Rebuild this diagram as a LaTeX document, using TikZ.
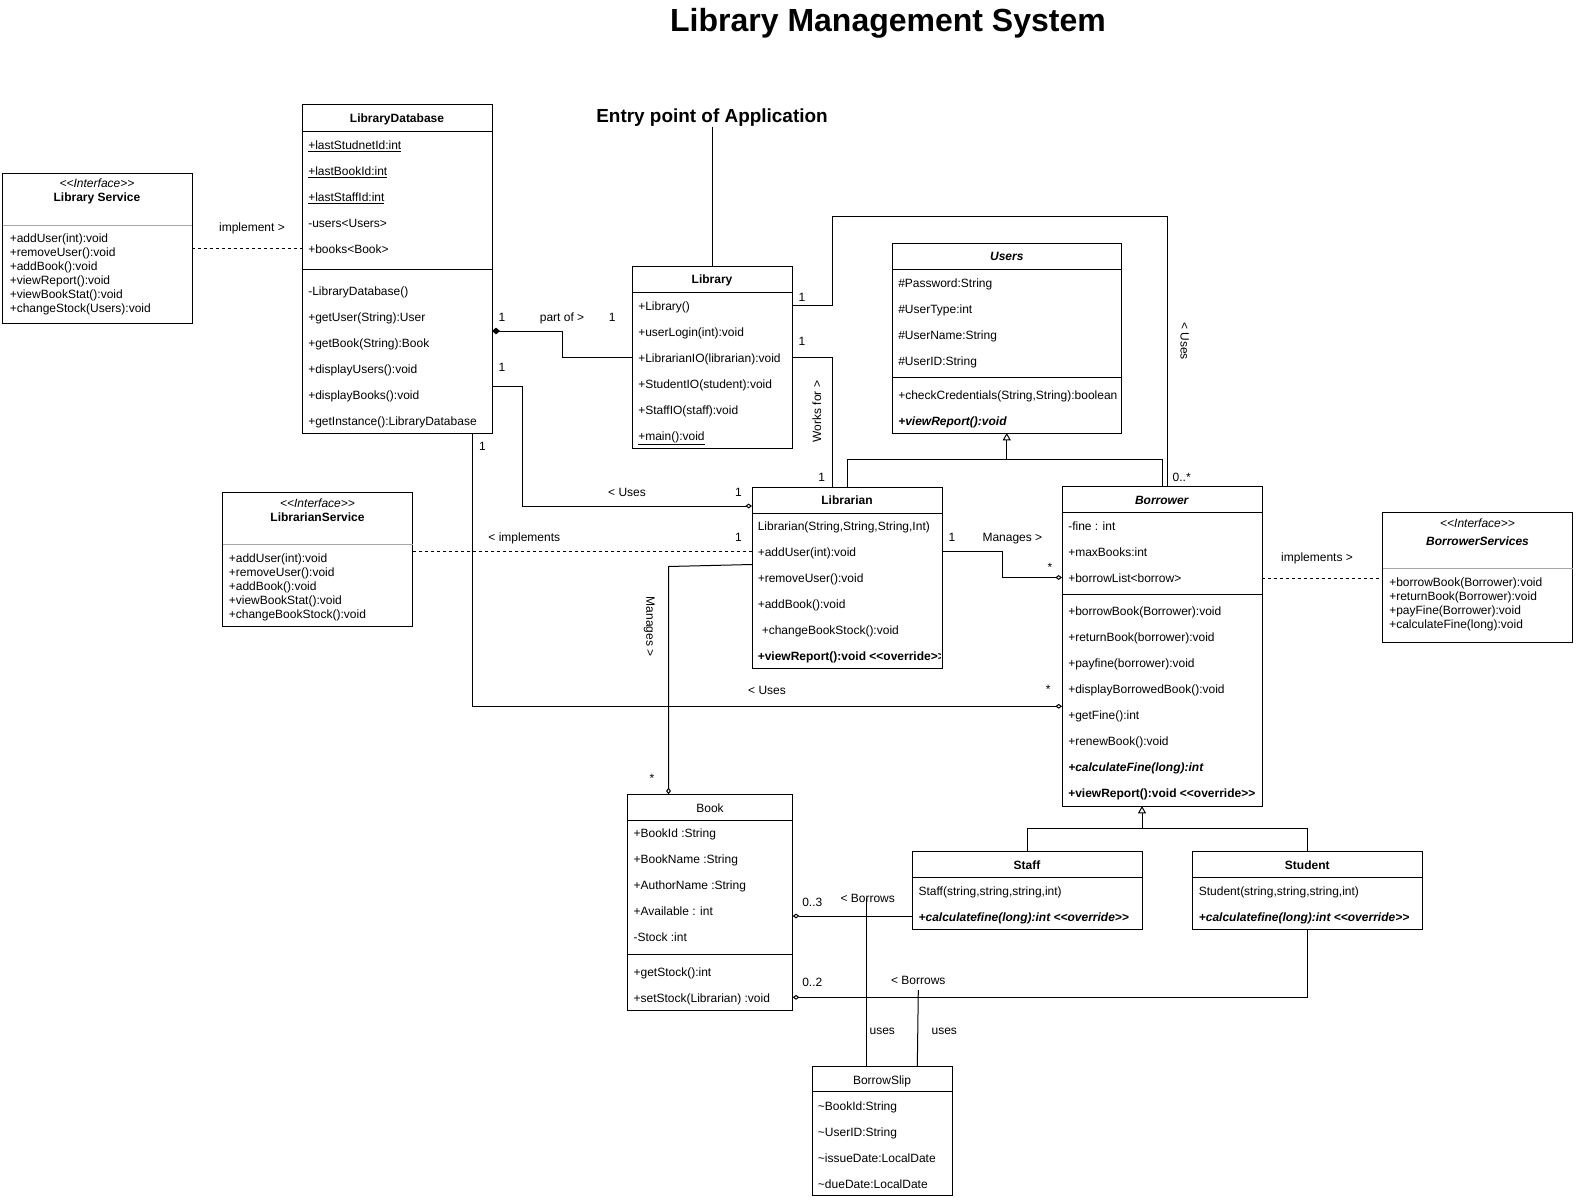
\documentclass[tikz,border=0pt]{standalone}
\usepackage{fontspec}
\setmainfont{Liberation Sans}
\usetikzlibrary{arrows.meta}
\newcommand\dlt{<\kern0pt<}
\newcommand\dgt{>\kern0pt>}
\newcommand\ubox[5]{\node[ubx,anchor=north west,minimum width={(#4-(#2))*0.75pt},minimum height={(#5-(#3))*0.75pt}] (#1) at (#2,#3) {};}
\newcommand\rows[5]{\foreach \tx [count=\i] in {#5} {\node[t,anchor=west] (#1\i) at (#2,{#3+(\i-1)*#4}) {\tx};}}
\newcommand\sepline[3]{\draw[ln] (#1,#3) -- (#2,#3);}
\tikzset{
  t/.style={font=\fontsize{9}{10.8}\selectfont, inner sep=0pt, text height=6.5pt, text depth=0pt},
  ubx/.style={draw, line width=0.75pt, inner sep=0pt, outer sep=0pt},
  ln/.style={line width=0.75pt},
  gsep/.style={line width=0.75pt, draw=gray!70},
  dsh/.style={line width=0.75pt, dash pattern=on 2.25pt off 2.25pt},
  odia/.style={-{Diamond[open,length=5pt,width=3.6pt]}},
  fdia/.style={{Diamond[length=6pt,width=5pt]}-},
  otri/.style={-{Triangle[open,length=5.5pt,width=6pt]}},
}
\begin{document}
\begin{tikzpicture}[x=0.75pt,y=-0.75pt]
\fill[white] (0,0) rectangle (1576,1202);
\useasboundingbox (0,0) rectangle (1576,1202);

% titles
\node[font=\fontsize{24}{28}\selectfont\bfseries, inner sep=0pt, anchor=base] (title) at (888,31.7) {Library Management System};
\node[font=\fontsize{14.2}{17}\selectfont\bfseries, inner sep=0pt, anchor=base] (entry) at (712,122.4) {Entry point of Application};

% ---------- Library Service ----------
\ubox{lsvc}{2.5}{173.5}{192}{323}
\draw[gsep] (2.5,225.3) -- (192,225.3);
\node[t] (lsvcS) at (97,183.5) {\textit{\dlt Interface\dgt}};
\node[t] (lsvcT) at (97,197.5) {\textbf{Library Service}};
\rows{lsvcM}{9.5}{238.3}{14}{+addUser(int):void,+removeUser():void,+addBook():void,+viewReport():void,+viewBookStat():void,+changeStock(Users):void}

% ---------- LibraryDatabase ----------
\ubox{libdb}{302.5}{105}{492}{433}
\sepline{302.5}{492}{131.5}
\sepline{302.5}{492}{269}
\node[t] (libdbT) at (397,118.5) {\textbf{LibraryDatabase}};
\rows{libdbA}{308}{145}{26}{{\underline{+lastStudnetId:int}},{\underline{+lastBookId:int}},{\underline{+lastStaffId:int}},-users<Users>,+books<Book>}
\rows{libdbM}{308}{290.7}{26}{-LibraryDatabase(),+getUser(String):User,+getBook(String):Book,+displayUsers():void,+displayBooks():void,+getInstance():LibraryDatabase}

% ---------- Library ----------
\ubox{lib}{632}{266}{792}{448}
\sepline{632}{792}{292}
\node[t] (libT) at (712,279.5) {\textbf{Library}};
\rows{libM}{638}{305.7}{26}{+Library(),+userLogin(int):void,+LibrarianIO(librarian):void,+StudentIO(student):void,+StaffIO(staff):void,{\underline{+main():void}}}

% ---------- Users ----------
\ubox{users}{892}{243}{1121.5}{433}
\sepline{892}{1121.5}{269.5}
\sepline{892}{1121.5}{377.5}
\node[t] (usersT) at (1006.75,256.5) {\textbf{\textit{Users}}};
\rows{usersA}{898}{282.7}{26}{\#Password:String,\#UserType:int,\#UserName:String,\#UserID:String}
\rows{usersM}{898}{394.9}{26}{{+checkCredentials(String,String):boolean},{\textbf{\textit{+viewReport():void}}}}

% ---------- Librarian ----------
\ubox{librarian}{752}{487}{942}{668.5}
\sepline{752}{942}{513}
\node[t] (librarianT) at (847,500) {\textbf{Librarian}};
\rows{librarianM}{757.5}{525.7}{26}{{Librarian(String,String,String,Int)},+addUser(int):void,+removeUser():void,+addBook():void,{\hspace{3pt}+changeBookStock():void}}
\begin{scope}
\clip (752,487) rectangle (940.5,668.5);
\node[t,anchor=west] (librarianM6) at (757.5,655.7) {\textbf{+viewReport():void \dlt override\dgt}};
\end{scope}

% ---------- Borrower ----------
\ubox{borrower}{1062}{486.5}{1262}{806}
\sepline{1062}{1262}{512.6}
\sepline{1062}{1262}{594}
\node[t] (borrowerT) at (1162,500) {\textbf{\textit{Borrower}}};
\rows{borrowerA}{1068}{525.7}{26}{-fine : int,+maxBooks:int,+borrowList<borrow>}
\rows{borrowerM}{1068}{611.6}{26}{+borrowBook(Borrower):void,+returnBook(borrower):void,+payfine(borrower):void,+displayBorrowedBook():void,+getFine():int,+renewBook():void,{\textbf{\textit{+calculateFine(long):int}}},{\textbf{+viewReport():void \dlt override\dgt}}}

% ---------- BorrowerServices ----------
\ubox{bsvc}{1382.5}{512.7}{1572.5}{642.5}
\draw[gsep] (1382.5,568.5) -- (1572.5,568.5);
\node[t] (bsvcS) at (1477.5,523.5) {\textit{\dlt Interface\dgt}};
\node[t] (bsvcT) at (1477.5,540.7) {\textbf{\textit{BorrowerServices}}};
\rows{bsvcM}{1389}{581.7}{14}{+borrowBook(Borrower):void,+returnBook(Borrower):void,+payFine(Borrower):void,+calculateFine(long):void}

% ---------- LibrarianService ----------
\ubox{lisvc}{222.5}{492.5}{412.5}{626}
\draw[gsep] (222.5,544) -- (412.5,544);
\node[t] (lisvcS) at (317.5,503.3) {\textit{\dlt Interface\dgt}};
\node[t] (lisvcT) at (317.5,516.7) {\textbf{LibrarianService}};
\rows{lisvcM}{228.6}{558.3}{14}{+addUser(int):void,+removeUser():void,+addBook():void,+viewBookStat():void,+changeBookStock():void}

% ---------- Book ----------
\ubox{book}{627.3}{794.3}{792.7}{1010}
\sepline{627.3}{792.7}{820.3}
\sepline{627.3}{792.7}{954.3}
\node[t] (bookT) at (710,807.7) {Book};
\rows{bookA}{633.3}{833.3}{26}{+BookId :String,+BookName :String,+AuthorName :String,+Available : int,-Stock :int}
\rows{bookM}{633.3}{971.7}{26}{+getStock():int,+setStock(Librarian) :void}

% ---------- Staff ----------
\ubox{staff}{912}{851.5}{1142}{929}
\sepline{912}{1142}{877.5}
\node[t] (staffT) at (1027,865) {\textbf{Staff}};
\rows{staffM}{918.3}{891.5}{26}{{Staff(string,string,string,int)},{\textbf{\textit{+calculatefine(long):int \dlt override\dgt}}}}

% ---------- Student ----------
\ubox{student}{1192.5}{851.5}{1422}{929}
\sepline{1192.5}{1422}{877.5}
\node[t] (studentT) at (1307.25,865) {\textbf{Student}};
\rows{studentM}{1198.6}{891.5}{26}{{Student(string,string,string,int)},{\textbf{\textit{+calculatefine(long):int \dlt override\dgt}}}}

% ---------- BorrowSlip ----------
\ubox{bslip}{812.3}{1066.7}{952}{1195.7}
\sepline{812.3}{952}{1091.7}
\node[t] (bslipT) at (882,1080.5) {BorrowSlip};
\rows{bslipA}{817.7}{1106.2}{26}{\textasciitilde BookId:String,\textasciitilde UserID:String,\textasciitilde issueDate:LocalDate,\textasciitilde dueDate:LocalDate}

% ================= connectors =================
% entry point
\draw[ln] (entry.south) -- (lib.north);

% implement (Library Service -> LibraryDatabase)
\draw[dsh] (lsvc.east |- 0,248.3) -- (libdb.west |- 0,248.3);
\node[t] (l_impl1) at (252,226.7) {implement >};

% part of
\draw[ln,fdia] (libdb.east |- 0,331) -- (562.3,331) -- (562.3,357.3) -- (lib.west |- 0,357.3);
\node[t] (l_po1) at (502,316.7) {1};
\node[t] (l_po) at (562,316.7) {part of >};
\node[t] (l_po2) at (612.3,316.7) {1};

% Uses (LibraryDatabase -> Librarian)
\draw[ln,odia] (libdb.east |- 0,386) -- (522.5,386) -- (522.5,506) -- (librarian.west |- 0,506);
\node[t] (l_u1a) at (502,366.7) {1};
\node[t] (l_u1) at (627,492.5) {< Uses};
\node[t] (l_u1b) at (738.5,492.5) {1};

% implements (LibrarianService - Librarian)
\draw[dsh] (lisvc.east |- 0,551) -- (librarian.west |- 0,551);
\node[t] (l_impl2) at (524.3,536.7) {< implements};
\node[t] (l_impl2b) at (738.5,536.7) {1};

% Manages (Librarian -> Book)
\draw[ln,odia] (librarian.west |- 0,564.5) -- (668.5,566.5) -- (668.5,0 |- book.north);
\node[t,rotate=-90] (l_mg1) at (650.7,626.7) {Manages >};
\node[t] (l_mg1b) at (652,778) {*};

% Works for (Library - Librarian)
\draw[ln] (lib.east |- 0,357.3) -- (832,357.3) -- (832,0 |- librarian.north);
\node[t] (l_wf1) at (802,340.7) {1};
\node[t,rotate=90] (l_wf) at (816.7,411.7) {Works for >};
\node[t] (l_wf2) at (821.7,476.7) {1};

% Uses (Library -> Borrower)
\draw[ln] (lib.east |- 0,305.5) -- (832.3,305.5) -- (832.3,216) -- (1167,216) -- (1167,0 |- borrower.north);
\node[t] (l_u2a) at (802,296.7) {1};
\node[t,rotate=-90] (l_u2) at (1185,341) {< Uses};
\node[t] (l_u2b) at (1181.7,476.7) {0..*};

% generalization to Users
\coordinate (ug) at (1006.75,459.3);
\draw[ln] (librarian.north) |- (ug);
\draw[ln] (borrower.north) |- (ug);
\draw[ln,otri] (ug) -- (ug |- users.south);

% Manages (Librarian -> Borrower)
\draw[ln,odia] (librarian.east |- 0,551) -- (1002,551) -- (1002,577.5) -- (borrower.west |- 0,577.5);
\node[t] (l_mg2a) at (952,536.7) {1};
\node[t] (l_mg2) at (1012.4,536.7) {Manages >};
\node[t] (l_mg2b) at (1050,567.5) {*};

% Uses (LibraryDatabase -> Borrower)
\draw[ln,odia] (472.4,0 |- libdb.south) -- (472.4,706.3) -- (borrower.west |- 0,706.3);
\node[t] (l_u3a) at (482.5,446.3) {1};
\node[t] (l_u3) at (767,690.5) {< Uses};
\node[t] (l_u3b) at (1048.3,689.5) {*};

% implements (Borrower - BorrowerServices)
\draw[dsh] (borrower.east |- 0,578.3) -- (bsvc.west |- 0,578.3);
\node[t] (l_impl3) at (1317,557.3) {implements >};

% generalization Staff / Student -> Borrower
\coordinate (bg) at (1142,828.3);
\draw[ln] (staff.north) |- (bg);
\draw[ln] (student.north) |- (bg);
\draw[ln,otri] (bg) -- (bg |- borrower.south);

% Borrows (Staff -> Book)
\draw[ln,odia] (staff.west |- 0,916) -- (book.east |- 0,916);
\node[t] (l_b1a) at (812.3,901.7) {0..3};
\node[t] (bw1) at (867.7,897.7) {< Borrows};

% Borrows (Student -> Book)
\draw[ln,odia] (student.south) -- (student.south |- 0,997.3) -- (book.east |- 0,997.3);
\node[t] (l_b2a) at (812.3,981.7) {0..2};
\node[t] (bw2) at (918.3,980) {< Borrows};

% uses (to BorrowSlip)
\draw[ln] (866.5,0 |- bw1.center) -- (866.5,0 |- bslip.north);
\draw[ln] (918.3,990) -- (917.3,0 |- bslip.north);
\node[t] (l_us1) at (882.3,1030) {uses};
\node[t] (l_us2) at (944.3,1030) {uses};
\end{tikzpicture}
\end{document}
